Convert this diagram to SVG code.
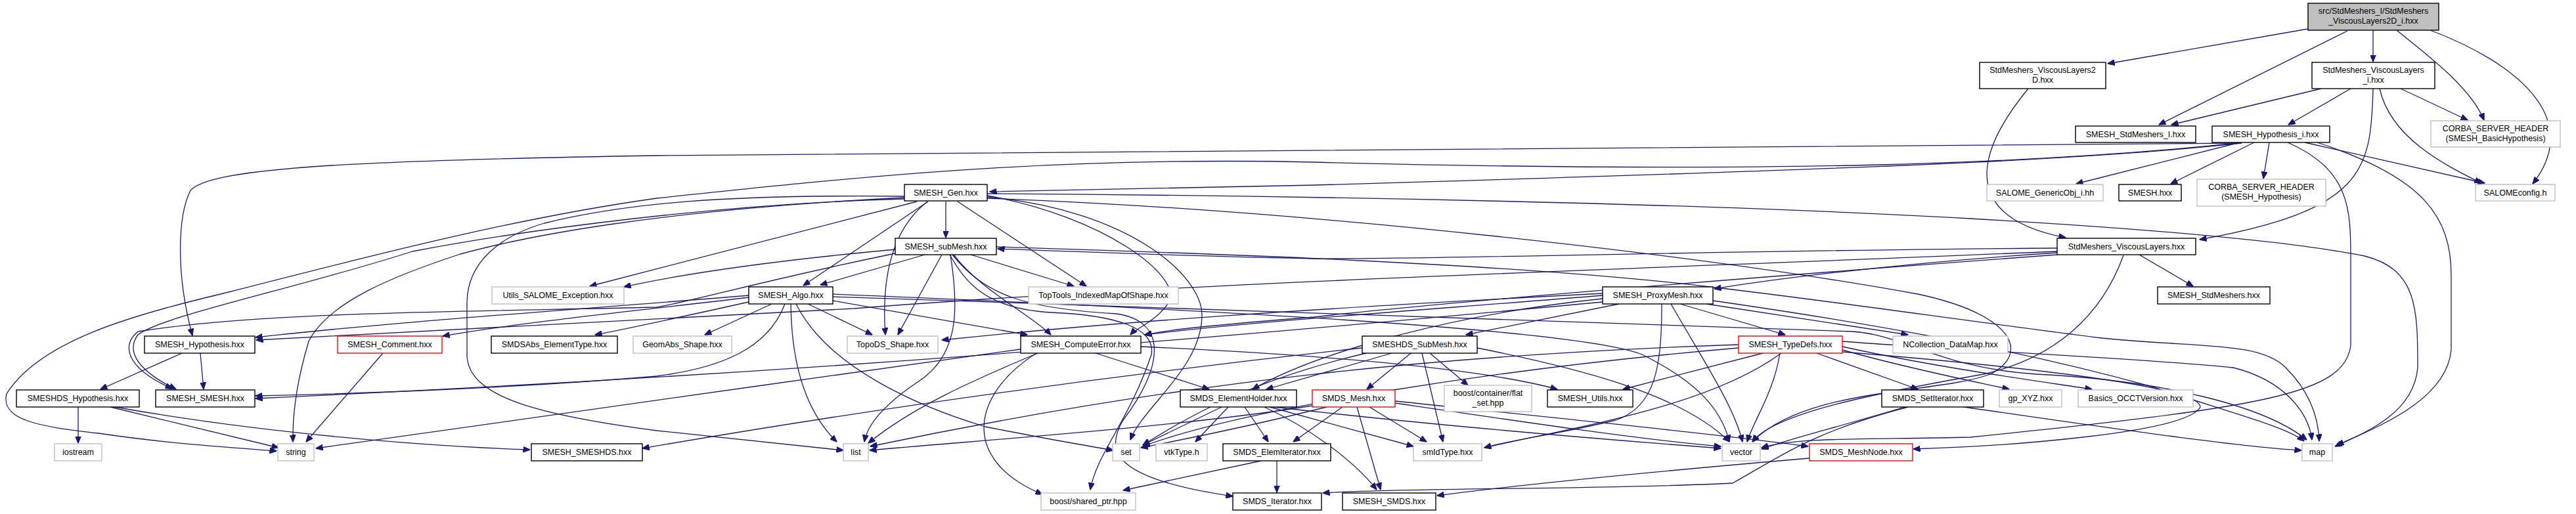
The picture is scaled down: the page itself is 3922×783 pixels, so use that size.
<svg xmlns="http://www.w3.org/2000/svg" width="3922" height="783" viewBox="0 0 3922 783">
<style>
.n rect{fill:#fff;stroke:#000;stroke-width:1.4}
.g rect{fill:#fff;stroke:#bfbfbf;stroke-width:1.4}
.r rect{fill:#fff;stroke:#ff0000;stroke-width:1.4}
.t rect{fill:#bfbfbf;stroke:#000;stroke-width:1.4}
text{font-family:"Liberation Sans",Arial,sans-serif;font-size:12.5px;fill:#000;text-anchor:middle}
#edges path{fill:none;stroke:#191970;stroke-width:1.3;marker-end:url(#ah)}
</style>
<defs>
<marker id="ah" viewBox="0 0 11 9" refX="10.5" refY="4.5" markerWidth="11" markerHeight="9" markerUnits="userSpaceOnUse" orient="auto">
<path d="M0,0 L11,4.5 L0,9 z" fill="#191970" stroke="#191970"/>
</marker>
</defs>
<rect width="3922" height="783" fill="#fff"/>
<g id="edges">
<path d="M3514,44 L3209,97"/>
<path d="M3574,47 L3287,190"/>
<path d="M3613,46 L3613,94"/>
<path d="M3649,46 C3690,80 3760,130 3782,183"/>
<path d="M3700,46 C3830,95 3935,180 3856,280"/>
<path d="M3088,135 C3010,230 2980,330 3145,362"/>
<path d="M3534,135 L3306,190"/>
<path d="M3579,135 L3484,190"/>
<path d="M3613,135 C3610,260 3600,320 3349,365"/>
<path d="M3655,135 L3757,183"/>
<path d="M3623,135 C3640,210 3720,250 3778,279"/>
<path d="M3410,217 L3161,280"/>
<path d="M3432,217 L3305,280"/>
<path d="M3455,217 L3446,272"/>
<path d="M3509,217 L3783,279"/>
<path d="M3483,217 C3580,260 3579,320 3579,400 L3579,526 C3570,600 3450,620 3000,666 C2850,670 2740,665 2682,682"/>
<path d="M3528,217 C3690,270 3732,330 3732,420 L3732,533 C3725,610 3620,650 3555,680"/>
<path d="M3410,218 C3200,226 2500,228 1000,237 C500,245 320,258 290,290 C270,330 268,420 293,511"/>
<path d="M3407,218 C3100,250 2700,265 2000,247 C1600,238 1300,270 1000,302 C800,330 600,380 340,447 C200,480 60,520 10,600 C0,640 60,650 150,660 C250,675 350,682 421,687"/>
<path d="M3413,218 C3200,240 3000,253 2000,282 L1507,292"/>
<path d="M1440,307 L1440,362"/>
<path d="M1413,307 L1223,435"/>
<path d="M1412,307 C1370,340 1340,400 1348,510"/>
<path d="M1458,307 L1654,436"/>
<path d="M1396,307 L898,436"/>
<path d="M1377,303 C1100,310 800,350 628,383 C450,440 250,480 210,510 C195,530 200,560 268,593"/>
<path d="M1377,301 C1000,320 800,360 701,387 C600,420 500,460 470,520 C455,570 445,620 446,673"/>
<path d="M1377,299 C1100,296 950,310 829,340 C760,360 712,400 711,460 L711,543 C715,600 800,630 1000,656 L1284,686"/>
<path d="M1503,300 C1720,320 1830,420 1830,480 C1830,560 1740,620 1721,670"/>
<path d="M1503,298 C1680,330 1800,420 1780,460 C1760,490 1730,500 1721,510"/>
<path d="M1503,295 C2000,298 2600,310 3000,333 C3300,350 3500,370 3600,390 C3680,410 3681,470 3681,560 C3675,630 3600,660 3558,678"/>
<path d="M1503,302 C2000,320 2600,390 2920,448 C3070,480 3090,540 3030,570 C2950,600 2750,590 2668,673"/>
<path d="M1408,388 L1249,434"/>
<path d="M1478,388 L1635,436"/>
<path d="M1434,388 L1367,510"/>
<path d="M1452,388 C1490,440 1570,480 1600,510"/>
<path d="M1447,388 C1460,470 1460,540 1400,580 C1340,620 1320,650 1316,673"/>
<path d="M1446,388 C1470,430 1500,470 1600,476 C1700,480 1760,500 1753,540 C1720,640 1670,690 1660,746"/>
<path d="M1450,388 C1500,450 1560,470 1700,478 C1780,490 1770,560 1710,640 C1680,690 1700,730 1877,756"/>
<path d="M1363,380 C1200,395 1050,415 950,437"/>
<path d="M1363,386 C1150,430 1050,460 1000,468 C700,475 400,475 210,505 C185,525 190,560 262,592"/>
<path d="M1517,376 C1800,385 2300,400 2612,438 C2800,460 3000,490 3200,515 C3350,530 3440,520 3480,560 C3520,600 3530,640 3531,672"/>
<path d="M1175,463 L1073,510"/>
<path d="M1230,463 L1328,510"/>
<path d="M1268,458 L1564,510"/>
<path d="M1204,463 C1205,560 1230,630 1274,673"/>
<path d="M1212,463 C1260,560 1400,620 1500,650 C1600,670 1660,680 1695,686"/>
<path d="M1140,450 C900,470 600,490 389,514"/>
<path d="M1140,453 C1000,470 800,490 674,512"/>
<path d="M1140,460 C1050,480 960,500 906,510"/>
<path d="M1195,463 C1170,530 1100,560 1000,573 C800,590 550,600 389,603"/>
<path d="M1268,452 C1800,470 2400,490 2820,505 C2900,510 2950,560 3100,570 C3300,580 3450,620 3512,670"/>
<path d="M1268,448 C1800,470 2400,500 2500,540 C2580,580 2620,620 2633,673"/>
<path d="M1668,538 L1841,593"/>
<path d="M1554,532 C1200,580 800,640 481,683"/>
<path d="M1580,538 C1480,580 1390,620 1322,675"/>
<path d="M1578,538 C1480,600 1460,700 1587,753"/>
<path d="M1737,528 C2000,540 2250,560 2371,593"/>
<path d="M2465,463 L2232,510"/>
<path d="M2530,463 C2530,560 2520,620 2460,640 C2380,660 2300,670 2260,682"/>
<path d="M2544,463 C2600,560 2640,620 2653,673"/>
<path d="M2558,463 L2718,510"/>
<path d="M2598,463 L2905,510"/>
<path d="M2608,458 C2900,500 3100,540 3280,590 C3400,630 3480,650 3508,672"/>
<path d="M2440,447 C2000,470 1700,490 1434,518"/>
<path d="M2440,450 C2200,470 1900,490 1743,510"/>
<path d="M2440,455 C2200,480 2000,540 1907,593"/>
<path d="M2440,460 C1800,520 1200,570 389,607"/>
<path d="M2119,538 L1928,593"/>
<path d="M2148,538 L2081,593"/>
<path d="M2177,538 L2235,587"/>
<path d="M2165,538 L2197,673"/>
<path d="M2249,530 C2400,560 2560,600 2633,673"/>
<path d="M2074,530 C1800,560 1400,610 978,683"/>
<path d="M2080,538 C1900,580 1800,640 1740,678"/>
<path d="M2684,538 L2471,593"/>
<path d="M2712,538 C2600,620 2400,650 2260,682"/>
<path d="M2766,538 L2920,593"/>
<path d="M2805,533 C2900,560 3000,580 3059,593"/>
<path d="M2805,528 C2950,560 3100,580 3185,593"/>
<path d="M2805,520 C3000,535 3250,545 3400,560 C3480,580 3515,630 3520,670"/>
<path d="M2710,538 C2700,600 2670,640 2660,673"/>
<path d="M2805,536 C3100,560 3350,590 3350,620 C3330,660 3050,680 2913,684"/>
<path d="M2647,525 C2200,540 1800,580 1325,680"/>
<path d="M2647,530 C2300,560 1900,620 1740,680"/>
<path d="M2900,620 C2800,650 2720,670 2682,684"/>
<path d="M2905,620 C2765,656 2714,693 2638,736 C2446,746 2128,743 2014,751"/>
<path d="M2990,620 C3200,650 3400,680 3504,686"/>
<path d="M1860,620 L1740,678"/>
<path d="M1870,620 L1820,673"/>
<path d="M1895,620 L1931,673"/>
<path d="M1933,620 L2152,680"/>
<path d="M1940,620 C2200,650 2450,670 2620,683"/>
<path d="M1925,620 C1990,650 2060,700 2096,746"/>
<path d="M2044,620 L1969,673"/>
<path d="M2085,620 L2172,673"/>
<path d="M2066,620 L2102,746"/>
<path d="M2124,614 C2300,640 2500,670 2620,680"/>
<path d="M2124,611 C2400,640 2600,660 2753,680"/>
<path d="M2020,620 C1900,650 1800,670 1737,682"/>
<path d="M1998,618 C1800,650 1500,670 1324,686"/>
<path d="M1944,702 L1944,750"/>
<path d="M1920,702 L1710,747"/>
<path d="M2755,698 C2500,720 2300,740 2188,755"/>
<path d="M277,538 L153,593"/>
<path d="M305,538 L310,593"/>
<path d="M119,620 L119,675"/>
<path d="M168,620 L424,682"/>
<path d="M175,620 C400,660 650,680 807,685"/>
<path d="M583,538 L466,673"/>
<path d="M3257,388 L3339,436"/>
<path d="M3132,385 C2900,400 2700,425 2610,440"/>
<path d="M3132,378 C2700,380 2200,395 2000,394 C1800,390 1600,382 1519,379"/>
<path d="M3132,383 C2500,410 1800,430 1300,470 C900,490 600,505 390,518"/>
<path d="M3132,388 C2700,420 2200,460 2000,483 C1850,495 1780,502 1743,510"/>
<path d="M3233,389 C3200,480 3130,545 3020,570 C2850,600 2700,630 2668,673"/>
</g>
<g id="n0" class="t"><rect x="3514" y="5" width="199" height="41"/><text x="3613.5" y="21">src/StdMeshers_I/StdMeshers</text><text x="3613.5" y="36">_ViscousLayers2D_i.hxx</text></g>
<g id="n1" class="n"><rect x="3014" y="95" width="192" height="40"/><text x="3110" y="111">StdMeshers_ViscousLayers2</text><text x="3110" y="126">D.hxx</text></g>
<g id="n2" class="n"><rect x="3520" y="95" width="187" height="40"/><text x="3613.5" y="111">StdMeshers_ViscousLayers</text><text x="3613.5" y="126">_i.hxx</text></g>
<g id="n3" class="n"><rect x="3160" y="192" width="183" height="25"/><text x="3251.5" y="209">SMESH_StdMeshers_I.hxx</text></g>
<g id="n4" class="n"><rect x="3368" y="192" width="179" height="25"/><text x="3457.5" y="209">SMESH_Hypothesis_i.hxx</text></g>
<g id="n5" class="g"><rect x="3701" y="184" width="197" height="40"/><text x="3799.5" y="200">CORBA_SERVER_HEADER</text><text x="3799.5" y="215">(SMESH_BasicHypothesis)</text></g>
<g id="n6" class="g"><rect x="3025" y="281" width="177" height="25"/><text x="3113.5" y="298">SALOME_GenericObj_i.hh</text></g>
<g id="n7" class="n"><rect x="3226" y="281" width="95" height="25"/><text x="3273.5" y="298">SMESH.hxx</text></g>
<g id="n8" class="g"><rect x="3345" y="273" width="196" height="41"/><text x="3443" y="289">CORBA_SERVER_HEADER</text><text x="3443" y="304">(SMESH_Hypothesis)</text></g>
<g id="n9" class="g"><rect x="3769" y="281" width="121" height="25"/><text x="3829.5" y="298">SALOMEconfig.h</text></g>
<g id="n10" class="n"><rect x="1377" y="281" width="126" height="25"/><text x="1440" y="298">SMESH_Gen.hxx</text></g>
<g id="n11" class="n"><rect x="1363" y="363" width="154" height="25"/><text x="1440" y="380">SMESH_subMesh.hxx</text></g>
<g id="n12" class="n"><rect x="3132" y="363" width="211" height="25"/><text x="3237.5" y="380">StdMeshers_ViscousLayers.hxx</text></g>
<g id="n13" class="g"><rect x="749" y="437" width="201" height="26"/><text x="849.5" y="454">Utils_SALOME_Exception.hxx</text></g>
<g id="n14" class="n"><rect x="1140" y="437" width="128" height="26"/><text x="1204" y="454">SMESH_Algo.hxx</text></g>
<g id="n15" class="g"><rect x="1566" y="437" width="228" height="26"/><text x="1680" y="454">TopTools_IndexedMapOfShape.hxx</text></g>
<g id="n16" class="n"><rect x="2440" y="437" width="168" height="26"/><text x="2524" y="454">SMESH_ProxyMesh.hxx</text></g>
<g id="n17" class="n"><rect x="3285" y="437" width="171" height="26"/><text x="3370.5" y="454">SMESH_StdMeshers.hxx</text></g>
<g id="n18" class="n"><rect x="220" y="512" width="168" height="26"/><text x="304" y="529">SMESH_Hypothesis.hxx</text></g>
<g id="n19" class="r"><rect x="514" y="512" width="159" height="26"/><text x="593.5" y="529">SMESH_Comment.hxx</text></g>
<g id="n20" class="n"><rect x="748" y="512" width="192" height="26"/><text x="844" y="529">SMDSAbs_ElementType.hxx</text></g>
<g id="n21" class="g"><rect x="964" y="512" width="150" height="26"/><text x="1039" y="529">GeomAbs_Shape.hxx</text></g>
<g id="n22" class="g"><rect x="1290" y="512" width="138" height="26"/><text x="1359" y="529">TopoDS_Shape.hxx</text></g>
<g id="n23" class="n"><rect x="1554" y="512" width="183" height="26"/><text x="1645.5" y="529">SMESH_ComputeError.hxx</text></g>
<g id="n24" class="n"><rect x="2074" y="512" width="175" height="26"/><text x="2161.5" y="529">SMESHDS_SubMesh.hxx</text></g>
<g id="n25" class="r"><rect x="2647" y="512" width="158" height="26"/><text x="2726" y="529">SMESH_TypeDefs.hxx</text></g>
<g id="n26" class="g"><rect x="2882" y="512" width="175" height="26"/><text x="2969.5" y="529">NCollection_DataMap.hxx</text></g>
<g id="n27" class="n"><rect x="25" y="594" width="187" height="26"/><text x="118.5" y="611">SMESHDS_Hypothesis.hxx</text></g>
<g id="n28" class="n"><rect x="237" y="594" width="151" height="26"/><text x="312.5" y="611">SMESH_SMESH.hxx</text></g>
<g id="n29" class="n"><rect x="1797" y="594" width="177" height="26"/><text x="1885.5" y="611">SMDS_ElementHolder.hxx</text></g>
<g id="n30" class="r"><rect x="1998" y="594" width="126" height="26"/><text x="2061" y="611">SMDS_Mesh.hxx</text></g>
<g id="n31" class="g"><rect x="2199" y="587" width="133" height="40"/><text x="2265.5" y="603">boost/container/flat</text><text x="2265.5" y="618">_set.hpp</text></g>
<g id="n32" class="n"><rect x="2356" y="594" width="130" height="26"/><text x="2421" y="611">SMESH_Utils.hxx</text></g>
<g id="n33" class="n"><rect x="2865" y="594" width="155" height="26"/><text x="2942.5" y="611">SMDS_SetIterator.hxx</text></g>
<g id="n34" class="g"><rect x="3044" y="594" width="95" height="26"/><text x="3091.5" y="611">gp_XYZ.hxx</text></g>
<g id="n35" class="g"><rect x="3164" y="594" width="175" height="26"/><text x="3251.5" y="611">Basics_OCCTVersion.hxx</text></g>
<g id="n36" class="g"><rect x="83" y="676" width="72" height="26"/><text x="119" y="693">iostream</text></g>
<g id="n37" class="g"><rect x="423" y="676" width="55" height="26"/><text x="450.5" y="693">string</text></g>
<g id="n38" class="n"><rect x="809" y="676" width="169" height="26"/><text x="893.5" y="693">SMESH_SMESHDS.hxx</text></g>
<g id="n39" class="g"><rect x="1284" y="676" width="38" height="26"/><text x="1303" y="693">list</text></g>
<g id="n40" class="g"><rect x="1694" y="676" width="41" height="26"/><text x="1714.5" y="693">set</text></g>
<g id="n41" class="g"><rect x="1760" y="676" width="78" height="26"/><text x="1799" y="693">vtkType.h</text></g>
<g id="n42" class="n"><rect x="1862" y="676" width="164" height="26"/><text x="1944" y="693">SMDS_ElemIterator.hxx</text></g>
<g id="n43" class="g"><rect x="2152" y="676" width="104" height="26"/><text x="2204" y="693">smIdType.hxx</text></g>
<g id="n44" class="g"><rect x="2622" y="676" width="58" height="26"/><text x="2651" y="693">vector</text></g>
<g id="n45" class="r"><rect x="2755" y="676" width="157" height="26"/><text x="2833.5" y="693">SMDS_MeshNode.hxx</text></g>
<g id="n46" class="g"><rect x="3505" y="676" width="46" height="26"/><text x="3528" y="693">map</text></g>
<g id="n47" class="g"><rect x="1585" y="751" width="144" height="26"/><text x="1657" y="768">boost/shared_ptr.hpp</text></g>
<g id="n48" class="n"><rect x="1877" y="751" width="135" height="26"/><text x="1944.5" y="768">SMDS_Iterator.hxx</text></g>
<g id="n49" class="n"><rect x="2044" y="751" width="142" height="26"/><text x="2115" y="768">SMESH_SMDS.hxx</text></g>
</svg>
